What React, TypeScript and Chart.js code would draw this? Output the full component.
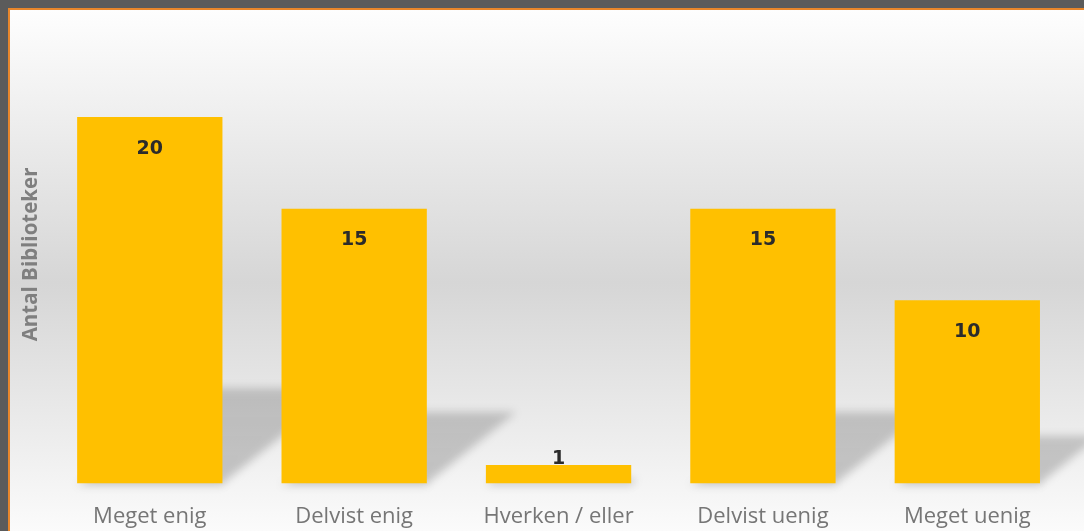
import React, { useEffect, useRef } from "react";
import { Chart, registerables } from "chart.js";

Chart.register(...registerables);

const categories = ["Meget enig", "Delvist enig", "Hverken / eller", "Delvist uenig", "Meget uenig"];
const values = [20, 15, 1, 15, 10];
const yAxisTitle = "Antal Biblioteker";
const yMax = 25;

const bgPlugin = {
  id: "bgGradient",
  beforeDraw(chart: any) {
    const { ctx, width } = chart;
    const height = 521;
    const g = ctx.createLinearGradient(0, 0, 0, height);
    g.addColorStop(0, "#fefefe");
    g.addColorStop(0.524, "#d6d6d6");
    g.addColorStop(1, "#fbfbfb");
    ctx.save();
    ctx.fillStyle = g;
    ctx.fillRect(0, 0, width, chart.height);
    ctx.restore();
  },
};

const shadowPlugin = {
  id: "barShadow",
  beforeDatasetsDraw(chart: any) {
    const { ctx } = chart;
    const meta = chart.getDatasetMeta(0);
    ctx.save();
    ctx.filter = "blur(4px)";
    meta.data.forEach((bar: any) => {
      const p = bar.getProps(["x", "y", "base", "width"], true);
      const h = p.base - p.y;
      const hs = h * 0.26;
      const s = hs * 1.25;
      const l = p.x - p.width / 2;
      const r = p.x + p.width / 2;
      const g = ctx.createLinearGradient(0, p.base - hs, 0, p.base);
      g.addColorStop(0, "rgba(0,0,0,0.18)");
      g.addColorStop(1, "rgba(0,0,0,0.2)");
      ctx.fillStyle = g;
      ctx.beginPath();
      ctx.moveTo(l + 4, p.base);
      ctx.lineTo(r, p.base);
      ctx.lineTo(r + s, p.base - hs);
      ctx.lineTo(l + s, p.base - hs);
      ctx.closePath();
      ctx.fill();
      ctx.fillStyle = "rgba(0,0,0,0.06)";
      ctx.fillRect(l, p.base - 2, p.width + 2, 5);
    });
    ctx.restore();
  },
};

const labelPlugin = {
  id: "valueLabels",
  afterDatasetsDraw(chart: any) {
    const { ctx } = chart;
    const meta = chart.getDatasetMeta(0);
    const ds = chart.data.datasets[0];
    ctx.save();
    ctx.font = "bold 19px 'DejaVu Sans'";
    ctx.fillStyle = "#2b2b2b";
    ctx.textAlign = "center";
    ctx.textBaseline = "middle";
    meta.data.forEach((bar: any, i: number) => {
      const p = bar.getProps(["x", "y", "base"], true);
      const h = p.base - p.y;
      const cy = h > 45 ? p.y + 31.5 : p.y - 6.5;
      ctx.fillText(String(ds.data[i]), p.x, cy);
    });
    ctx.restore();
  },
};

export default function App() {
  const ref = useRef<HTMLCanvasElement | null>(null);

  useEffect(() => {
    if (!ref.current) return;
    const chart = new Chart(ref.current, {
      type: "bar",
      data: {
        labels: categories,
        datasets: [
          {
            data: values,
            backgroundColor: "#FFC000",
            borderWidth: 0,
            categoryPercentage: 1,
            barPercentage: 0.711,
          },
        ],
      },
      options: {
        responsive: false,
        animation: false,
        devicePixelRatio: 1,
        layout: { padding: { left: 5, right: 14.5, top: 15.5, bottom: 0 } },
        plugins: { legend: { display: false }, tooltip: { enabled: false } },
        scales: {
          x: {
            grid: { display: false, drawTicks: false },
            border: { display: false },
            ticks: {
              color: "#767676",
              padding: 20.6,
              font: { family: "'Open Sans'", size: 22 },
              maxRotation: 0,
              autoSkip: false,
            },
          },
          y: {
            min: 0,
            max: yMax,
            grid: { display: false, drawTicks: false },
            border: { display: false },
            ticks: { display: false },
            title: {
              display: true,
              text: yAxisTitle,
              color: "#7f7f7f",
              font: { family: "'Open Sans'", size: 20.5, weight: "bold" },
              padding: { top: 4, bottom: 4 },
            },
          },
        },
      },
      plugins: [bgPlugin, shadowPlugin, labelPlugin],
    });
    return () => chart.destroy();
  }, []);

  return (
    <div style={{ position: "fixed", inset: 0, background: "#5b5b5b", overflow: "hidden" }}>
      <div
        style={{
          position: "absolute",
          left: 8,
          top: 8,
          width: 1090,
          height: 560,
          borderLeft: "2px solid #e8862b",
          borderTop: "2px solid #e8862b",
          background: "#ffffff",
        }}
      >
        <canvas ref={ref} width={1074} height={541} style={{ display: "block" }} />
      </div>
    </div>
  );
}
